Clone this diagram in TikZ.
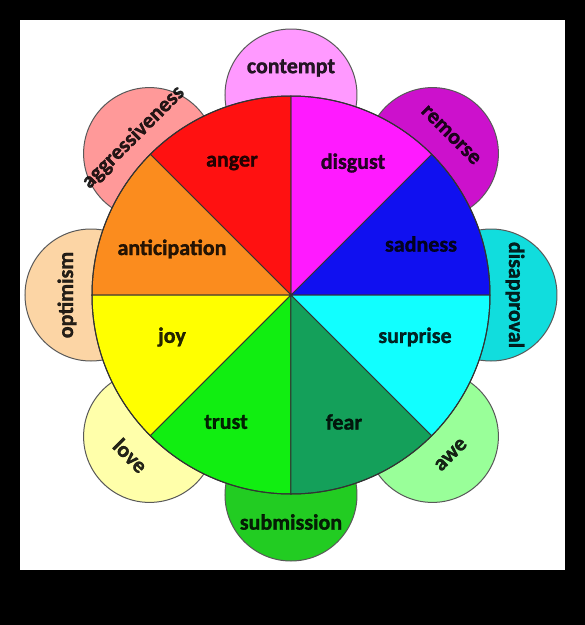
\documentclass[tikz,border=0pt]{standalone}
\usepackage{fontspec}
\setmainfont{Carlito}[BoldFeatures={FakeBold=1.2}]
\definecolor{cAnger}{HTML}{FF1111}
\definecolor{cDisgust}{HTML}{FF1AFF}
\definecolor{cSadness}{HTML}{1010F0}
\definecolor{cSurprise}{HTML}{11FFFF}
\definecolor{cFear}{HTML}{14A05A}
\definecolor{cTrust}{HTML}{11EE11}
\definecolor{cJoy}{HTML}{FFFF00}
\definecolor{cAntic}{HTML}{FB8C1E}
\definecolor{cContempt}{HTML}{FF99FF}
\definecolor{cRemorse}{HTML}{CC11CC}
\definecolor{cDisapp}{HTML}{11DDDD}
\definecolor{cAwe}{HTML}{99FF99}
\definecolor{cSubm}{HTML}{22CC22}
\definecolor{cLove}{HTML}{FFFFAA}
\definecolor{cOptim}{HTML}{FCD5A5}
\definecolor{cAggr}{HTML}{FF9999}
\tikzset{
  petal/.style={draw=black!65, line width=1pt},
  wedge/.style={draw=black!80, line width=1pt},
  lbl/.style={font=\fontsize{22}{24}\selectfont\bfseries, text=black, text opacity=0.85, inner sep=0pt},
}
\begin{document}
\begin{tikzpicture}[x=1pt,y=1pt]
\useasboundingbox (-291,-330) rectangle (294,295);
\fill[black] (-291,-330) rectangle (294,295);
\fill[white] (-271,-275) rectangle (274,275);
\coordinate (c) at (0,0);
% petals
\foreach \a/\col/\nm in {90/cContempt/pContempt,45/cRemorse/pRemorse,0/cDisapp/pDisapp,-45/cAwe/pAwe,-90/cSubm/pSubm,-135/cLove/pLove,180/cOptim/pOptim,135/cAggr/pAggr}{
  \node[petal, circle, fill=\col, minimum size=132pt, inner sep=0pt] (\nm) at (\a:200) {};
}
% wedges
\foreach \s/\col in {0/cSadness,45/cDisgust,90/cAnger,135/cAntic,180/cJoy,225/cTrust,270/cFear,315/cSurprise}{
  \filldraw[wedge, fill=\col] (c) -- (\s:199) arc[start angle=\s, end angle=\s+45, radius=199] -- cycle;
}
\draw[wedge] (c) circle[radius=199];
% inner labels
\node[lbl] (anger) at (-59,132) {anger};
\node[lbl] (disgust) at (62,132) {disgust};
\node[lbl] (antic) at (-119,46) {anticipation};
\node[lbl] (sadness) at (130,51) {sadness};
\node[lbl] (joy) at (-119,-42) {joy};
\node[lbl] (surprise) at (124,-42) {surprise};
\node[lbl] (trust) at (-65,-127) {trust};
\node[lbl] (fear) at (53,-127) {fear};
% outer labels
\node[lbl] (contempt) at (90:227) {contempt};
\node[lbl, rotate=-45] (remorse) at (45:226) {remorse};
\node[lbl, rotate=-90] (disapproval) at (0:224) {disapproval};
\node[lbl, rotate=45] (awe) at (-45:226) {awe};
\node[lbl] (submission) at (-90:227) {submission};
\node[lbl, rotate=-45] (love) at (-135:227) {love};
\node[lbl, rotate=90] (optimism) at (180:224) {optimism};
\node[lbl, rotate=45] (aggr) at (135:223) {aggressiveness};
\end{tikzpicture}
\end{document}
